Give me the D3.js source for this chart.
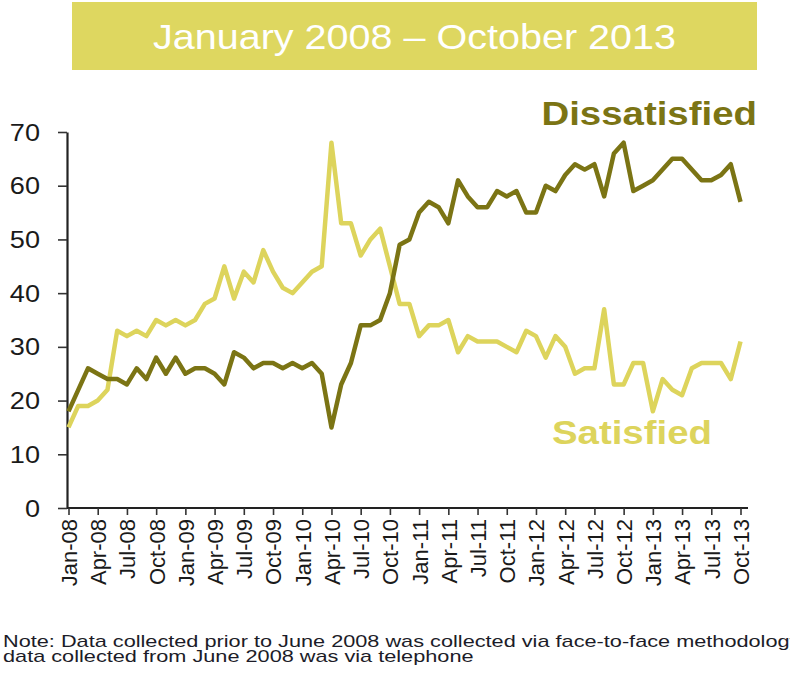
<!DOCTYPE html>
<html>
<head>
<meta charset="utf-8">
<script src="https://cdn.jsdelivr.net/npm/d3@7"></script>
<style>
  html, body { margin: 0; padding: 0; background: #fff; }
  svg { display: block; font-family: "Liberation Sans", Arial, Helvetica, sans-serif; }
</style>
</head>
<body>
<svg id="chart" width="790" height="675"></svg>
<script>
// Monthly survey categories, Jan-08 .. Oct-13
const months = d3.timeMonth
  .range(new Date(2008, 0, 1), new Date(2013, 10, 1))
  .map(d3.timeFormat("%b-%y"));

// Quarterly axis labels
const tickLabels = [
  "Jan-08","Apr-08","Jul-08","Oct-08","Jan-09","Apr-09","Jul-09","Oct-09",
  "Jan-10","Apr-10","Jul-10","Oct-10","Jan-11","Apr-11","Jul-11","Oct-11",
  "Jan-12","Apr-12","Jul-12","Oct-12","Jan-13","Apr-13","Jul-13","Oct-13"
];

// Share of respondents (%)
const dissatisfied = [
  18, 22, 26, 25, 24, 24, 23, 26, 24, 28, 25, 28,
  25, 26, 26, 25, 23, 29, 28, 26, 27, 27, 26, 27,
  26, 27, 25, 15, 23, 27, 34, 34, 35, 40, 49, 50,
  55, 57, 56, 53, 61, 58, 56, 56, 59, 58, 59, 55,
  55, 60, 59, 62, 64, 63, 64, 58, 66, 68, 59, 60,
  61, 63, 65, 65, 63, 61, 61, 62, 64, 57
];
const satisfied = [
  15, 19, 19, 20, 22, 33, 32, 33, 32, 35, 34, 35,
  34, 35, 38, 39, 45, 39, 44, 42, 48, 44, 41, 40,
  42, 44, 45, 68, 53, 53, 47, 50, 52, 45, 38, 38,
  32, 34, 34, 35, 29, 32, 31, 31, 31, 30, 29, 33,
  32, 28, 32, 30, 25, 26, 26, 37, 23, 23, 27, 27,
  18, 24, 22, 21, 26, 27, 27, 27, 24, 31
];

const yTicks = [0, 10, 20, 30, 40, 50, 60, 70];

const title = "January 2008 \u2013 October 2013";
const noteLines = [
  "Note: Data collected prior to June 2008 was collected via face-to-face methodology;",
  "data collected from June 2008 was via telephone"
];

const colDark = "#7b7414";
const colLight = "#ddd45c";
const colBanner = "#ded760";
const SX = 1.13; // horizontal stretch of the type

const svg = d3.select("#chart");

// Text drawn with a slight horizontal stretch
function wideText(parent, x, y, str, size, opts = {}) {
  const g = parent.append("g").attr("transform", `translate(${x},${y}) scale(${opts.sx || SX},1)`);
  return g.append("text")
    .attr("x", 0).attr("y", 0)
    .attr("font-size", size)
    .attr("font-weight", opts.weight || "normal")
    .attr("fill", opts.fill || "#111")
    .attr("text-anchor", opts.anchor || "start")
    .text(str);
}

// Title banner
svg.append("rect")
  .attr("x", 72).attr("y", 2).attr("width", 685).attr("height", 68)
  .attr("fill", colBanner);
wideText(svg, 414.5, 49, title, 35, { fill: "#fff", anchor: "middle" });

// Scales
const x = d3.scalePoint().domain(months).range([68.5, 740.5]);
const y = d3.scaleLinear().domain([0, 70]).range([508, 132]);

// Y axis
const yAxis = svg.append("g")
  .attr("transform", "translate(67,0)")
  .call(d3.axisLeft(y).tickValues(yTicks).tickSize(9).tickSizeOuter(0).tickFormat(""));
yAxis.select(".domain").attr("stroke", "#222").attr("stroke-width", 2.2);
yAxis.selectAll(".tick line").attr("stroke", "#333").attr("stroke-width", 1.6);
yTicks.forEach(v => {
  wideText(svg, 40, y(v) + 8.5, String(v), 24, { anchor: "end", fill: "#1a1a1a" });
});

// X axis
const xAxis = svg.append("g")
  .attr("transform", "translate(0,508)")
  .call(d3.axisBottom(x).tickValues(tickLabels).tickSize(7).tickSizeOuter(0));
xAxis.select(".domain").attr("stroke", "#222").attr("stroke-width", 2.2)
  .attr("d", "M67,0H748");
xAxis.selectAll(".tick line").attr("stroke", "#333").attr("stroke-width", 1.6);
xAxis.selectAll(".tick text")
  .attr("font-family", "'Liberation Sans', Arial, sans-serif")
  .attr("font-size", 22)
  .attr("fill", "#1a1a1a")
  .attr("text-anchor", "end")
  .attr("transform", "rotate(-90)")
  .attr("x", -11)
  .attr("y", 0)
  .attr("dy", "0.36em");

// Lines
const line = values => d3.line()
  .x((d, i) => x(months[i]))
  .y(d => y(d))(values);

svg.append("path")
  .attr("d", line(satisfied))
  .attr("fill", "none").attr("stroke", colLight)
  .attr("stroke-width", 4.5).attr("stroke-linejoin", "round");
svg.append("path")
  .attr("d", line(dissatisfied))
  .attr("fill", "none").attr("stroke", colDark)
  .attr("stroke-width", 4.5).attr("stroke-linejoin", "round");

// Series labels
wideText(svg, 757, 125, "Dissatisfied", 34, { weight: "bold", anchor: "end", fill: colDark });
wideText(svg, 712, 444, "Satisfied", 34, { weight: "bold", anchor: "end", fill: colLight });

// Footnote, stretched so the first line runs to the page edge
const probe = svg.append("text").attr("font-size", 16)
  .text("Note: Data collected prior to June 2008 was collected via face-to-face methodolog");
const noteSX = 787 / probe.node().getComputedTextLength();
probe.remove();
noteLines.forEach((t, i) => {
  wideText(svg, 3, 647 + i * 14.5, t, 16, { sx: noteSX, fill: "#1c1c28" });
});
</script>
</body>
</html>
